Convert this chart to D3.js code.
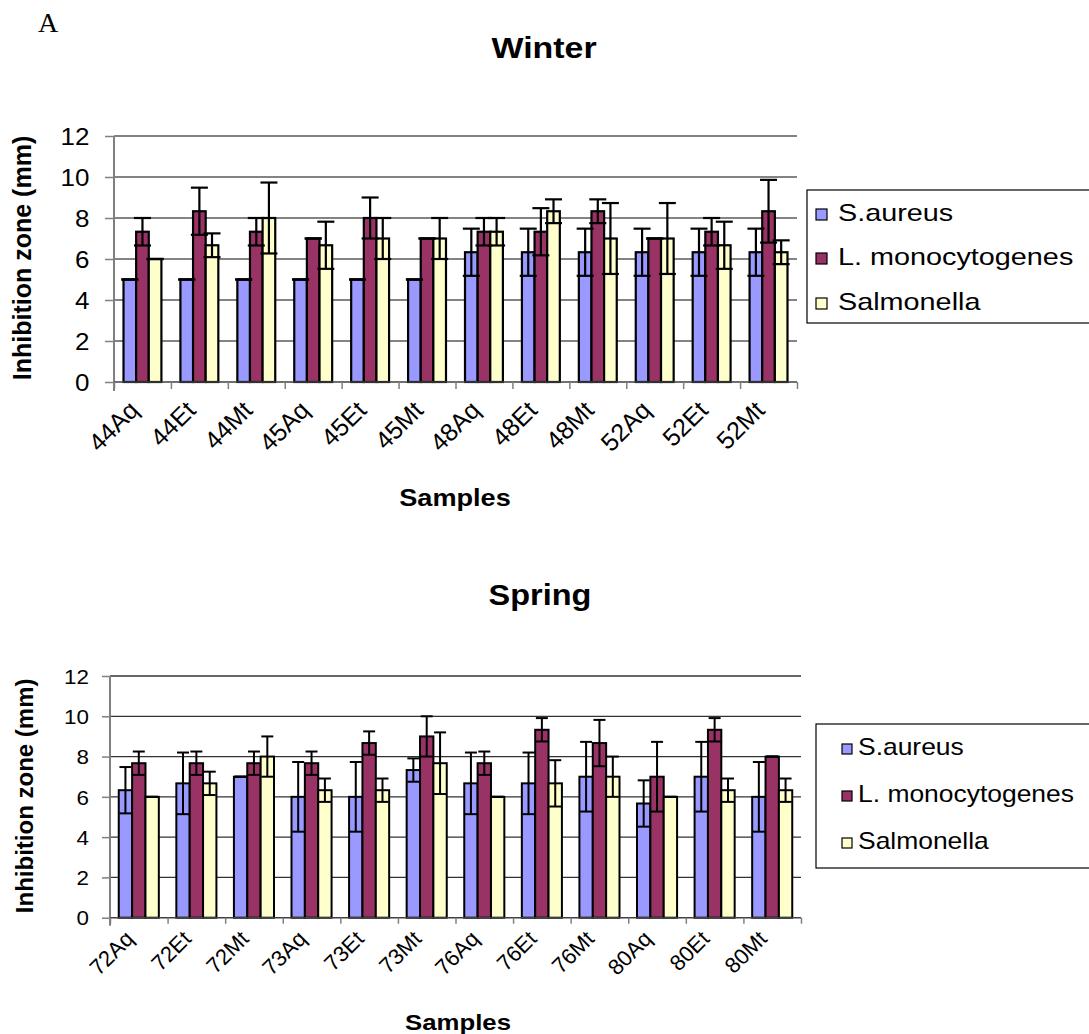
<!DOCTYPE html>
<html>
<head>
<meta charset="utf-8">
<script src="https://cdn.jsdelivr.net/npm/d3@7"></script>
<style>
  body { margin: 0; background: #fff; }
  svg { display: block; }
  text { font-family: Arial, "Liberation Sans", sans-serif; fill: #000; }
</style>
</head>
<body>
<svg id="fig" width="1089" height="1034"></svg>
<script>
// ---- data ----------------------------------------------------------------
const seriesNames = ["S.aureus", "L. monocytogenes", "Salmonella"];
const seriesColors = ["#9999FF", "#993366", "#FFFFCC"];
const yTicks = [0, 2, 4, 6, 8, 10, 12];

const winterSamples = ["44Aq", "44Et", "44Mt", "45Aq", "45Et", "45Mt",
                       "48Aq", "48Et", "48Mt", "52Aq", "52Et", "52Mt"];
const winterSaureus      = [5, 5, 5, 5, 5, 5, 6.33, 6.33, 6.33, 6.33, 6.33, 6.33];
const winterSaureusSD    = [0, 0, 0, 0, 0, 0, 1.15, 1.15, 1.15, 1.15, 1.15, 1.15];
const winterListeria     = [7.33, 8.33, 7.33, 7, 8, 7, 7.33, 7.33, 8.33, 7, 7.33, 8.33];
const winterListeriaSD   = [0.67, 1.15, 0.67, 0, 1, 0, 0.67, 1.15, 0.58, 0, 0.67, 1.53];
const winterSalmonella   = [6, 6.67, 8, 6.67, 7, 7, 7.33, 8.33, 7, 7, 6.67, 6.33];
const winterSalmonellaSD = [0, 0.58, 1.73, 1.15, 1, 1, 0.67, 0.58, 1.73, 1.73, 1.15, 0.58];

const springSamples = ["72Aq", "72Et", "72Mt", "73Aq", "73Et", "73Mt",
                       "76Aq", "76Et", "76Mt", "80Aq", "80Et", "80Mt"];
const springSaureus      = [6.33, 6.67, 7, 6, 6, 7.33, 6.67, 6.67, 7, 5.67, 7, 6];
const springSaureusSD    = [1.15, 1.53, 0, 1.73, 1.73, 0.58, 1.53, 1.53, 1.73, 1.15, 1.73, 1.73];
const springListeria     = [7.67, 7.67, 7.67, 7.67, 8.67, 9, 7.67, 9.33, 8.67, 7, 9.33, 8];
const springListeriaSD   = [0.58, 0.58, 0.58, 0.58, 0.58, 1, 0.58, 0.58, 1.15, 1.73, 0.58, 0];
const springSalmonella   = [6, 6.67, 8, 6.33, 6.33, 7.67, 6, 6.67, 7, 6, 6.33, 6.33];
const springSalmonellaSD = [0, 0.58, 1, 0.58, 0.58, 1.53, 0, 1.15, 1, 0, 0.58, 0.58];

// ---- drawing -------------------------------------------------------------
const svg = d3.select("#fig");

function label(parent, x, y, str, o) {
  return parent.append("text")
    .attr("transform", `translate(${x},${y}) scale(${o.sx || 1},1)`)
    .attr("text-anchor", o.anchor || "start")
    .attr("font-size", o.size)
    .attr("font-weight", o.weight || "normal")
    .text(str);
}

// "A" panel letter
svg.append("text")
  .attr("x", 38).attr("y", 32)
  .style("font-family", "'Liberation Serif', 'Times New Roman', serif")
  .attr("font-size", 28)
  .text("A");

function drawChart(cfg) {
  const g = svg.append("g");
  const x0 = d3.scaleBand().domain(cfg.samples).range([cfg.left, cfg.right]);
  const bw = x0.bandwidth();
  const x1 = d3.scaleBand().domain(d3.range(seriesNames.length))
    .range([bw * cfg.groupPad, bw * (1 - cfg.groupPad)]);
  const y = d3.scaleLinear().domain([0, 12]).range([cfg.bottom, cfg.top]);
  const xb = d3.scaleLinear().domain([0, cfg.samples.length]).range([cfg.left, cfg.right]);

  // title
  label(g, cfg.titleX, cfg.titleY, cfg.title,
    { size: cfg.titleSize, weight: "bold", anchor: "middle", sx: cfg.sx });

  // horizontal gridlines
  g.append("g").selectAll("line")
    .data(yTicks.filter(d => d > 0))
    .join("line")
    .attr("x1", cfg.left).attr("x2", cfg.right)
    .attr("y1", d => y(d)).attr("y2", d => y(d))
    .attr("stroke", cfg.gridColor).attr("stroke-width", 1.3);

  // bars
  const rows = cfg.samples.map((s, i) => ({
    sample: s,
    vals: cfg.values.map(arr => arr[i]),
    errs: cfg.errors.map(arr => arr[i])
  }));
  const groups = g.append("g").selectAll("g")
    .data(rows).join("g")
    .attr("transform", d => `translate(${x0(d.sample)},0)`);

  groups.selectAll("rect")
    .data(d => d.vals.map((v, k) => ({ v, k })))
    .join("rect")
    .attr("x", d => x1(d.k))
    .attr("width", x1.bandwidth())
    .attr("y", d => y(d.v))
    .attr("height", d => y(0) - y(d.v))
    .attr("fill", d => seriesColors[d.k])
    .attr("stroke", "#000")
    .attr("stroke-width", cfg.barStroke);

  // error bars (drawn over all bars)
  const eb = groups.selectAll("g.err")
    .data(d => d.vals.map((v, k) => ({ v, e: d.errs[k], k })))
    .join("g").attr("class", "err")
    .attr("stroke", "#000").attr("stroke-width", cfg.errStroke);
  const cx = d => x1(d.k) + x1.bandwidth() / 2;
  eb.append("line")
    .attr("x1", cx).attr("x2", cx)
    .attr("y1", d => y(d.v + d.e)).attr("y2", d => y(d.v - d.e));
  [1, -1].forEach(sgn => {
    eb.append("line")
      .attr("x1", d => cx(d) - cfg.cap / 2).attr("x2", d => cx(d) + cfg.cap / 2)
      .attr("y1", d => y(d.v + sgn * d.e)).attr("y2", d => y(d.v + sgn * d.e));
  });

  // y axis
  const yAxis = g.append("g")
    .attr("transform", `translate(${cfg.left},0)`)
    .call(d3.axisLeft(y).tickValues(yTicks).tickSize(cfg.tick).tickPadding(0)
      .tickFormat(d3.format("d")));
  yAxis.select(".domain").attr("stroke", "#808080").attr("stroke-width", 2)
    .attr("d", `M0,${cfg.top}V${cfg.bottom + cfg.tick}`);
  yAxis.selectAll(".tick line").attr("stroke", "#808080").attr("stroke-width", 1.5);
  yAxis.selectAll(".tick text")
    .attr("x", -cfg.yLabelGap / cfg.sx)
    .attr("dy", "0.36em")
    .attr("transform", `scale(${cfg.sx},1)`)
    .attr("font-size", cfg.tickSize)
    .style("font-family", "Arial, 'Liberation Sans', sans-serif")
    .attr("fill", "#000");

  // x axis: tick marks at category boundaries
  const xAxis = g.append("g")
    .attr("transform", `translate(0,${cfg.bottom})`)
    .call(d3.axisBottom(xb).tickValues(d3.range(cfg.samples.length + 1))
      .tickSize(cfg.tick - 2).tickFormat(""));
  xAxis.select(".domain").attr("stroke", "#404040").attr("stroke-width", 1.5)
    .attr("d", `M${cfg.left},0H${cfg.right}`);
  xAxis.selectAll(".tick line").attr("stroke", "#808080").attr("stroke-width", 1.5);

  // category labels, rotated
  g.append("g").selectAll("text")
    .data(cfg.samples).join("text")
    .attr("transform", d =>
      `translate(${x0(d) + bw / 2 + cfg.xLabelDx},${cfg.xLabelY}) rotate(-45)`)
    .attr("text-anchor", "end")
    .attr("dy", "0.72em")
    .attr("font-size", cfg.xTickSize)
    .text(d => d);

  // axis titles
  label(g, cfg.xTitleX, cfg.xTitleY, "Samples",
    { size: cfg.axisTitleSize, weight: "bold", anchor: "middle", sx: cfg.sx });
  g.append("text")
    .attr("transform", `translate(${cfg.yTitleX},${(cfg.top + cfg.bottom) / 2 - 1}) rotate(-90)`)
    .attr("text-anchor", "middle")
    .attr("font-size", cfg.yTitleSize)
    .attr("font-weight", "bold")
    .text("Inhibition zone (mm)");

  // legend
  const lg = g.append("g");
  lg.append("rect")
    .attr("x", cfg.legend.x).attr("y", cfg.legend.y)
    .attr("width", cfg.legend.w).attr("height", cfg.legend.h)
    .attr("fill", "#fff").attr("stroke", "#000").attr("stroke-width", 1.2);
  seriesNames.forEach((name, k) => {
    const by = cfg.legend.rows[k];
    lg.append("rect")
      .attr("x", cfg.legend.swX).attr("y", by - cfg.legend.sw - 1)
      .attr("width", cfg.legend.sw).attr("height", cfg.legend.sw)
      .attr("fill", seriesColors[k]).attr("stroke", "#000").attr("stroke-width", 1.2);
    label(lg, cfg.legend.textX, by, name, { size: cfg.legend.size, sx: cfg.legend.sx });
  });
}

drawChart({
  title: "Winter", titleX: 544, titleY: 58, titleSize: 30,
  samples: winterSamples,
  values: [winterSaureus, winterListeria, winterSalmonella],
  errors: [winterSaureusSD, winterListeriaSD, winterSalmonellaSD],
  left: 114, right: 797, top: 136, bottom: 382,
  groupPad: 0.167, sx: 1.13,
  gridColor: "#5a5a5a", barStroke: 2.2, errStroke: 2.2, cap: 17,
  tick: 9, yLabelGap: 24.5, tickSize: 23,
  xTickSize: 25, xLabelDx: -15, xLabelY: 399,
  xTitleX: 455, xTitleY: 506, axisTitleSize: 24,
  yTitleX: 31, yTitleSize: 25,
  legend: { x: 807, y: 190, w: 290, h: 133, swX: 816, sw: 11, textX: 838,
            rows: [221, 265, 310], size: 24, sx: 1.2 }
});

drawChart({
  title: "Spring", titleX: 540, titleY: 605, titleSize: 29,
  samples: springSamples,
  values: [springSaureus, springListeria, springSalmonella],
  errors: [springSaureusSD, springListeriaSD, springSalmonellaSD],
  left: 110, right: 801, top: 676, bottom: 917.7,
  groupPad: 0.152, sx: 1.12,
  gridColor: "#333", barStroke: 2, errStroke: 2, cap: 12,
  tick: 8, yLabelGap: 21, tickSize: 20,
  xTickSize: 22, xLabelDx: -15, xLabelY: 929,
  xTitleX: 458, xTitleY: 1030, axisTitleSize: 23,
  yTitleX: 33, yTitleSize: 24,
  legend: { x: 816, y: 724, w: 290, h: 144, swX: 842, sw: 10, textX: 858,
            rows: [755, 802, 849], size: 23, sx: 1.15 }
});
</script>
</body>
</html>
